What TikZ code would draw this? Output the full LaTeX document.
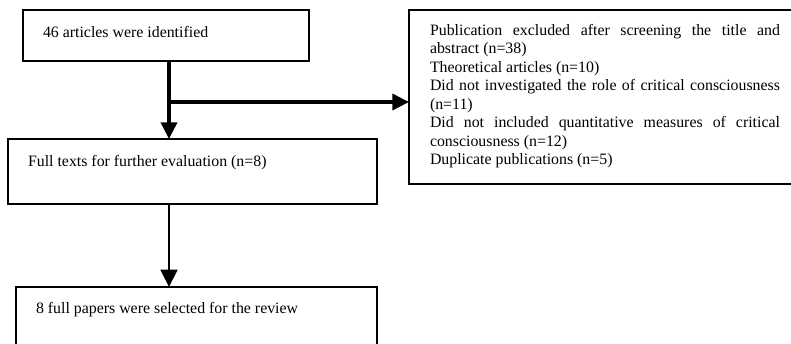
\documentclass[tikz,border=0pt]{standalone}
\usepackage{fontspec}
\setmainfont{Liberation Serif}
\usetikzlibrary{arrows.meta,calc}
\newcommand{\pxu}{0.75pt}
\hbadness=10000
\begin{document}
\begin{tikzpicture}[x=0.75pt,y=-0.75pt,
  box/.style={draw=black,line width=1pt,inner sep=0pt,outer sep=0pt,anchor=north west},
  lbl/.style={inner sep=0pt,outer sep=0pt,anchor=base west,font=\fontsize{11.9pt}{13.9pt}\selectfont},
  arrA/.style={line width=2.7pt,-{Triangle[length=12.5pt,width=12pt]}},
  arrB/.style={line width=2.2pt,-{Triangle[length=13pt,width=12.5pt]}},
  seg/.style={line width=2.7pt}]
\useasboundingbox (0,0) rectangle (791,343);
% boxes
\node[box,minimum width=286*\pxu,minimum height=51*\pxu] (b1) at (23,10) {};
\node[box,minimum width=369*\pxu,minimum height=65*\pxu] (b2) at (8,139) {};
\node[box,minimum width=420*\pxu,minimum height=174*\pxu] (b3) at (409,10) {};
\node[box,minimum width=361*\pxu,minimum height=80*\pxu] (b4) at (16,287) {};
% texts
\node[lbl] (t1) at (43,37) {46 articles were identified};
\node[lbl] (t2) at (28,166) {Full texts for further evaluation (n=8)};
\node[lbl] (t4) at (36,313) {8 full papers were selected for the review};
\node[lbl,text width=350*\pxu,align=justify] (t3) at (430,35) {%
Publication excluded after screening the title and\linebreak abstract (n=38)\par
Theoretical articles (n=10)\par
Did not investigated the role of critical consciousness\linebreak (n=11)\par
Did not included quantitative measures of critical\linebreak consciousness (n=12)\par
Duplicate publications (n=5)};
% connectors
\coordinate (j) at (169,102);
\draw[seg] (b1.south -| j) -- (j);
\draw[arrA] (j) -- (b2.north -| j);
\draw[arrA] (j) -- (b3.west |- j);
\draw[arrB] (b2.south -| j) -- (b4.north -| j);
\end{tikzpicture}
\end{document}
